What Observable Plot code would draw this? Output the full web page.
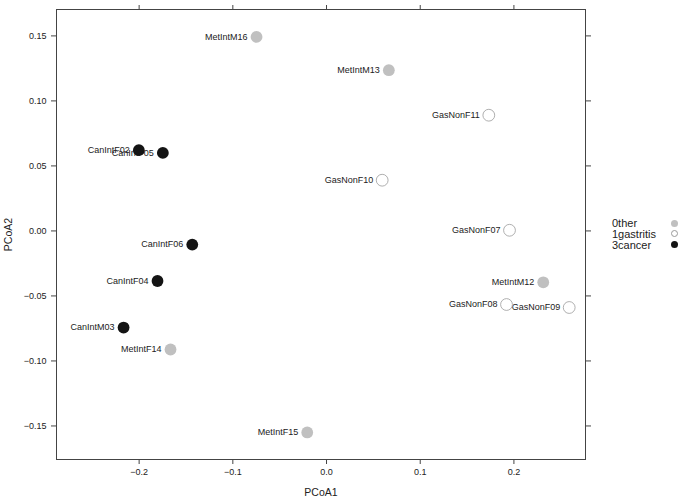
<!DOCTYPE html>
<html>
<head>
<meta charset="utf-8">
<script src="https://cdn.jsdelivr.net/npm/d3@7"></script>
<script src="https://cdn.jsdelivr.net/npm/@observablehq/plot@0.6"></script>
<style>
  html, body { margin: 0; padding: 0; background: #fff; }
  #wrap { position: relative; width: 683px; height: 501px; font-family: "Liberation Sans", Arial, sans-serif; }
  #legend { position: absolute; left: 612px; top: 218px; font-size: 11px; color: #222; }
  #legend .row { position: relative; height: 10.8px; line-height: 10.8px; width: 68px; }
  #legend .sym { position: absolute; left: 59px; top: 1.6px; width: 7px; height: 7px; border-radius: 50%; box-sizing: border-box; }
  svg g[aria-label="y-axis label"], svg g[aria-label="x-axis label"] { font-size: 10.5px; }
</style>
</head>
<body>
<div id="wrap"><div id="chart"></div><div id="legend"></div></div>
<script>
const samples = ["MetIntM16","MetIntM13","GasNonF11","GasNonF10","GasNonF07","CanIntF02","CanIntF05","CanIntF06","CanIntF04","CanIntM03","MetIntF14","MetIntF15","MetIntM12","GasNonF08","GasNonF09"];
const pcoa1 = [-0.0747, 0.0665, 0.1732, 0.0594, 0.1953, -0.2003, -0.1747, -0.1433, -0.1804, -0.2166, -0.1665, -0.0206, 0.2313, 0.1921, 0.2590];
const pcoa2 = [0.1492, 0.1236, 0.0890, 0.0390, 0.0005, 0.0621, 0.0600, -0.0105, -0.0385, -0.0743, -0.0912, -0.1550, -0.0395, -0.0566, -0.0589];
const groups = ["0ther","0ther","1gastritis","1gastritis","1gastritis","3cancer","3cancer","3cancer","3cancer","3cancer","0ther","0ther","0ther","1gastritis","1gastritis"];
const groupNames = ["0ther","1gastritis","3cancer"];
const xTicks = [-0.2, -0.1, 0.0, 0.1, 0.2];
const yTicks = [-0.15, -0.10, -0.05, 0.00, 0.05, 0.10, 0.15];

const fills = {"0ther": "#c0c0c0", "1gastritis": "#ffffff", "3cancer": "#141414"};
const strokes = {"0ther": "none", "1gastritis": "#9a9a9a", "3cancer": "none"};

const data = samples.map((s, i) => ({name: s, x: pcoa1[i], y: pcoa2[i], g: groups[i]}));

const font = "'Liberation Sans', Arial, sans-serif";
const fmtX = d3.format(".1f");
const fmtY = d3.format(".2f");

const chart = Plot.plot({
  width: 683,
  height: 501,
  marginLeft: 56,
  marginRight: 98,
  marginTop: 9,
  marginBottom: 42,
  style: {fontFamily: font, fontSize: "9px", color: "#222", background: "#fff"},
  x: {domain: [-0.2882, 0.2764]},
  y: {domain: [-0.1758, 0.1703]},
  marks: [
    Plot.axisX({anchor: "bottom", ticks: xTicks, tickSize: 5, tickPadding: 4, tickFormat: fmtX, stroke: "#444", fontSize: 9, label: "PCoA1", labelAnchor: "center", labelArrow: "none", labelOffset: 36}),
    Plot.axisX({anchor: "top", ticks: xTicks, tickSize: 5, tickFormat: () => "", stroke: "#444", label: null}),
    Plot.axisY({anchor: "left", ticks: yTicks, tickSize: 5, tickPadding: 5, tickFormat: fmtY, stroke: "#444", fontSize: 9, label: "PCoA2", labelAnchor: "center", labelArrow: "none", labelOffset: 52}),
    Plot.axisY({anchor: "right", ticks: yTicks, tickSize: 5, tickFormat: () => "", stroke: "#444", label: null}),
    Plot.frame({stroke: "#444", strokeWidth: 1}),
    Plot.text(data, {x: "x", y: "y", text: "name", textAnchor: "end", dx: -9, fontSize: 9, fill: "#222"}),
    Plot.dot(data, {x: "x", y: "y", r: 5.9, fill: d => fills[d.g], stroke: d => strokes[d.g], strokeWidth: 0.8})
  ]
});
document.getElementById("chart").appendChild(chart);

const legend = document.getElementById("legend");
groupNames.forEach(g => {
  const row = document.createElement("div");
  row.className = "row";
  row.textContent = g;
  const sym = document.createElement("span");
  sym.className = "sym";
  sym.style.background = fills[g];
  sym.style.border = strokes[g] === "none" ? "none" : "0.8px solid " + strokes[g];
  row.appendChild(sym);
  legend.appendChild(row);
});
</script>
</body>
</html>
